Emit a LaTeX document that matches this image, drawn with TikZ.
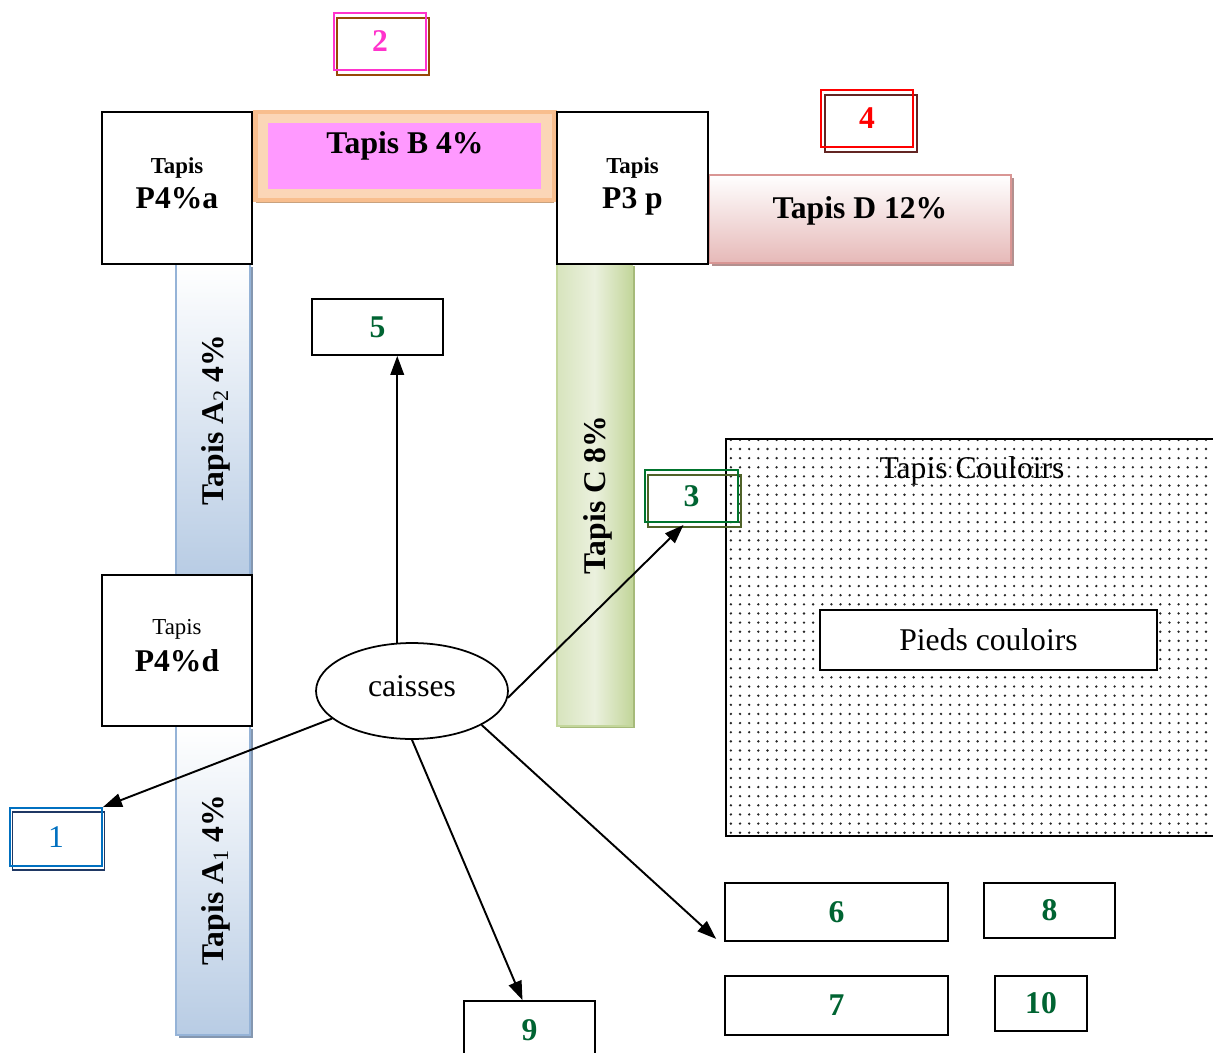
\documentclass[tikz,border=0pt]{standalone}
\usepackage{fontspec}
\setmainfont{Liberation Serif}
\usetikzlibrary{arrows.meta,shapes.geometric,shadows,patterns.meta}

\definecolor{zahlgruen}{RGB}{0,100,50}
\definecolor{zahlrosa}{RGB}{255,51,204}
\definecolor{zahlblau}{RGB}{0,112,192}
\definecolor{orangehell}{RGB}{253,233,217}
\definecolor{orangedunkel}{RGB}{248,190,142}
\definecolor{orangeschatten}{RGB}{201,162,126}
\definecolor{rosa}{RGB}{255,153,255}
\definecolor{rotunten}{RGB}{230,185,184}
\definecolor{rotrand}{RGB}{217,150,148}
\definecolor{rotschatten}{RGB}{179,144,143}
\definecolor{blauunten}{RGB}{184,204,228}
\definecolor{blaurand}{RGB}{149,179,215}
\definecolor{blauschatten}{RGB}{132,151,176}
\definecolor{gruenhell}{RGB}{235,241,222}
\definecolor{gruenmittel}{RGB}{215,228,189}
\definecolor{gruendunkel}{RGB}{195,214,155}
\definecolor{gruenschatten}{RGB}{166,186,122}
\definecolor{braunrand}{RGB}{152,72,7}
\definecolor{olivrand}{RGB}{79,98,40}
\definecolor{dunkelblau}{RGB}{31,56,100}
\definecolor{dunkelrot}{RGB}{99,37,35}

\newcommand{\gross}{\fontsize{18}{18}\selectfont}
\newcommand{\klein}{\fontsize{13}{13}\selectfont}

\tikzset{
  kasten/.style={draw, line width=1pt, fill=white, inner sep=0pt, font=\gross\bfseries, text=zahlgruen},
  tapiskasten/.style={kasten, text=black, align=center, text depth=5.5pt},
  doppel/.style={draw, line width=1.1pt, inner sep=0pt, font=\gross\bfseries},
  band/.style={inner sep=0pt},
  titel/.style={font=\gross\bfseries, inner sep=0pt},
  pfeil/.style={-{Triangle[length=0.38cm,width=0.27cm]}, line width=1.1pt}
}

\begin{document}
\begin{tikzpicture}[x=0.02cm, y=-0.02cm]
  \useasboundingbox (0,0) rectangle (1213,1052);
  % Baender
  \node[band, fill=orangedunkel!45!orangehell, draw=orangedunkel, line width=2.5pt, minimum width=5.98cm, minimum height=1.76cm,
    general shadow={fill=orangeschatten, shadow yshift=-0.07cm}] (bandB) at (405,156) {};
  \node[band, fill=rosa, minimum width=5.46cm, minimum height=1.32cm] (innenB) at (404.5,156) {};
  \node[band, draw=rotrand, line width=1pt, top color=white, bottom color=rotunten, minimum width=6.04cm, minimum height=1.76cm,
    general shadow={fill=rotschatten, shadow xshift=0.06cm, shadow yshift=-0.06cm}] (bandD) at (860,219) {};
  \foreach \name/\y/\h in {bandAzwei/419.5/6.22, bandAeins/880.5/6.18} {
    \node[band, draw=blaurand, line width=1pt, top color=white, bottom color=blauunten, minimum width=1.48cm, minimum height=\h cm,
      general shadow={fill=blauschatten, shadow xshift=0.06cm, shadow yshift=-0.06cm}] (\name) at (213,\y) {};
  }
  \node[band, draw=gruendunkel, line width=1pt, left color=gruenmittel, right color=gruendunkel, middle color=gruenhell,
    minimum width=1.5cm, minimum height=9.24cm,
    general shadow={fill=gruenschatten, shadow xshift=0.06cm, shadow yshift=-0.04cm}] (bandC) at (594.5,495) {};
  % Beschriftung der Baender
  \node[titel] (tB) at (405,146) {Tapis B 4\%};
  \node[titel] (tD) at (860,211) {Tapis D 12\%};
  \node[titel, rotate=90] (tAzwei) at (216,420) {Tapis A\textsubscript{\mdseries 2} 4\%};
  \node[titel, rotate=90] (tAeins) at (216,880) {Tapis A\textsubscript{\mdseries 1} 4\%};
  \node[titel, rotate=90] (tC) at (598,495) {Tapis C 8\%};
  % Tapis-Kaesten
  \node[tapiskasten, minimum width=3cm, minimum height=3.04cm] (pa) at (177,188) {{\klein Tapis}\\[2pt]P4\%a};
  \node[tapiskasten, minimum width=3.02cm, minimum height=3.04cm] (pp) at (632.5,188) {{\klein Tapis}\\[2pt]P3 p};
  \node[tapiskasten, minimum width=3cm, minimum height=3.02cm] (pd) at (177,650.5) {{\klein\mdseries Tapis}\\[3pt]P4\%d};
  % Couloirs
  \node[draw, line width=1pt, pattern={Dots[distance=5.2pt,radius=0.75pt]}, pattern color=black!85,
    minimum width=9.9cm, minimum height=7.94cm, anchor=north west] (couloir) at (725,438) {};
  \node[font=\gross, inner sep=0pt] (tcoul) at (972,471) {Tapis Couloirs};
  \node[draw, line width=1pt, fill=white, font=\gross, minimum width=6.74cm, minimum height=1.2cm] (pieds) at (988.5,640) {Pieds couloirs};
  % Doppelkaesten
  \node[doppel, draw=zahlrosa, text=zahlrosa, minimum width=1.84cm, minimum height=1.14cm,
    general shadow={draw=braunrand, fill=none, line width=1.1pt, shadow xshift=0.06cm, shadow yshift=-0.1cm}] (b2) at (380,41.5) {2};
  \node[doppel, draw=red, text=red, minimum width=1.84cm, minimum height=1.14cm,
    general shadow={draw=dunkelrot, fill=none, line width=1.1pt, shadow xshift=0.08cm, shadow yshift=-0.1cm}] (b4) at (867,118.5) {4};
  \node[doppel, draw=zahlgruen!90!green, text=zahlgruen, minimum width=1.86cm, minimum height=1.04cm,
    general shadow={draw=olivrand, fill=none, line width=1.1pt, shadow xshift=0.06cm, shadow yshift=-0.1cm}] (b3) at (691.5,496) {3};
  \node[doppel, draw=zahlblau, text=zahlblau, font=\gross\mdseries, minimum width=1.84cm, minimum height=1.16cm,
    general shadow={draw=dunkelblau, fill=none, line width=1.1pt, shadow xshift=0.05cm, shadow yshift=-0.08cm}] (b1) at (56,837) {1};
  % Nummern
  \foreach \n/\x/\y/\w/\h in {5/377.5/327/2.62/1.12, 6/836.5/912/4.46/1.16, 7/836.5/1005.5/4.46/1.18,
      8/1049.5/910.5/2.62/1.1, 9/529.5/1030.5/2.62/1.18, 10/1041/1003.5/1.84/1.1} {
    \node[kasten, minimum width=\w cm, minimum height=\h cm] (b\n) at (\x,\y) {\n};
  }
  % caisses
  \node[ellipse, draw, line width=1pt, fill=white, inner sep=0pt, font=\gross, text depth=6pt,
    minimum width=3.84cm, minimum height=1.92cm] (caisses) at (412,691) {caisses};
  % Pfeile
  \draw[pfeil] (caisses.107) -- (caisses.107 |- b5.south);
  \draw[pfeil] (caisses.199) -- (b1.north east);
  \draw[pfeil] (caisses.-4) -- ([shift={(-8,2)}]b3.south);
  \draw[pfeil] (caisses.south) -- ([shift={(-7,0)}]b9.north);
  \draw[pfeil] (caisses.-26) -- ([shift={(-8,-3)}]b6.south west);
\end{tikzpicture}
\end{document}
